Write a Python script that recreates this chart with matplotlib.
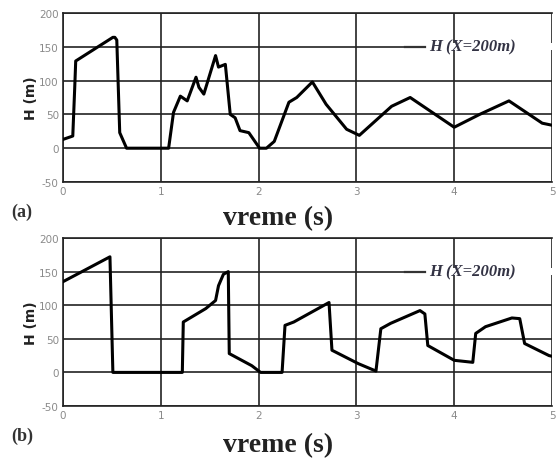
import matplotlib
matplotlib.use("Agg")
import matplotlib.pyplot as plt
from matplotlib.patches import Rectangle

# Panel (a) data
t_a = [0.0, 0.10, 0.12, 0.13, 0.51, 0.53, 0.55, 0.58, 0.65, 1.08, 1.13, 1.20, 1.27, 1.36, 1.39,
       1.44, 1.56, 1.59, 1.66, 1.71, 1.76, 1.81, 1.90, 2.01, 2.08, 2.16, 2.31, 2.39, 2.55, 2.69,
       2.90, 3.03, 3.36, 3.55, 4.00, 4.26, 4.56, 4.90, 5.00]
h_a = [13, 18, 90, 129, 164, 164, 160, 23, 0, 0, 53, 77, 70, 105, 90,
       80, 137, 120, 124, 50, 45, 26, 23, 0, 0, 10, 68, 75, 98, 65,
       28, 19, 62, 75, 31, 50, 70, 37, 34]

# Panel (b) data
t_b = [0.0, 0.48, 0.51, 1.22, 1.23, 1.46, 1.56, 1.59, 1.64, 1.69, 1.70, 1.93, 2.02, 2.24, 2.27,
       2.36, 2.72, 2.75, 3.02, 3.20, 3.25, 3.35, 3.65, 3.70, 3.73, 4.00, 4.19, 4.22, 4.32, 4.59,
       4.67, 4.72, 4.97, 5.00]
h_b = [135, 172, 0, 0, 75, 95, 107, 129, 146, 150, 28, 10, 0, 0, 70,
       75, 104, 33, 13, 2, 65, 73, 92, 87, 40, 18, 15, 58, 68, 81,
       80, 43, 25, 24]

x_ticks = [0, 1, 2, 3, 4, 5]
y_ticks = [-50, 0, 50, 100, 150, 200]
legend_text = "H (X=200m)"
panel_labels = ["(a)", "(b)"]
xlabel = "vreme (s)"
ylabel = "H (m)"

fig = plt.figure(figsize=(5.56, 4.64), dpi=100)
W, H = 556, 464
ax_a = fig.add_axes([63 / W, 1 - 183 / H, 489 / W, 169 / H])
ax_b = fig.add_axes([63 / W, 1 - 407 / H, 489 / W, 168 / H])

for ax, t, h in [(ax_a, t_a, h_a), (ax_b, t_b, h_b)]:
    ax.set_xlim(0, 5)
    ax.set_ylim(-50, 200)
    ax.set_xticks(x_ticks)
    ax.set_yticks(y_ticks)
    ax.set_xticklabels([str(v) for v in x_ticks])
    ax.set_yticklabels([str(v) for v in y_ticks])
    ax.tick_params(length=0, labelsize=7.5, labelcolor="#8a8a8a", pad=3)
    ax.grid(True, color="#222222", linewidth=1.2)
    ax.set_axisbelow(True)
    for s in ax.spines.values():
        s.set_color("#222222")
        s.set_linewidth(1.2)
    ax.spines["right"].set_visible(False)
    ax.add_patch(Rectangle((3.70, 145), 1.5, 10, facecolor="white", edgecolor="none",
                           zorder=1.5, clip_on=False))
    ax.plot([3.50, 3.70], [150, 150], color="#333333", linewidth=1.6, zorder=2)
    ax.text(3.74, 150, legend_text, fontfamily="Liberation Serif", fontstyle="italic",
            fontweight="bold", fontsize=12, color="#333344", va="center", ha="left", zorder=3)
    ax.plot(t, h, color="black", linewidth=2.2, zorder=4, solid_joinstyle="round")
    ax.set_ylabel(ylabel, fontsize=10, fontweight="bold", color="#222222", labelpad=1)

fig.text(11 / W, 1 - 212 / H, panel_labels[0], fontfamily="Liberation Serif",
         fontweight="bold", fontsize=13, color="#333333", va="center", ha="left")
fig.text(11 / W, 1 - 436 / H, panel_labels[1], fontfamily="Liberation Serif",
         fontweight="bold", fontsize=13, color="#333333", va="center", ha="left")
fig.text(278 / W, 1 - 219 / H, xlabel, fontfamily="Liberation Serif",
         fontweight="bold", fontsize=20, color="#222222", va="center", ha="center")
fig.text(278 / W, 1 - 446 / H, xlabel, fontfamily="Liberation Serif",
         fontweight="bold", fontsize=20, color="#222222", va="center", ha="center")

fig.savefig("out.png", dpi=100, facecolor="white")
